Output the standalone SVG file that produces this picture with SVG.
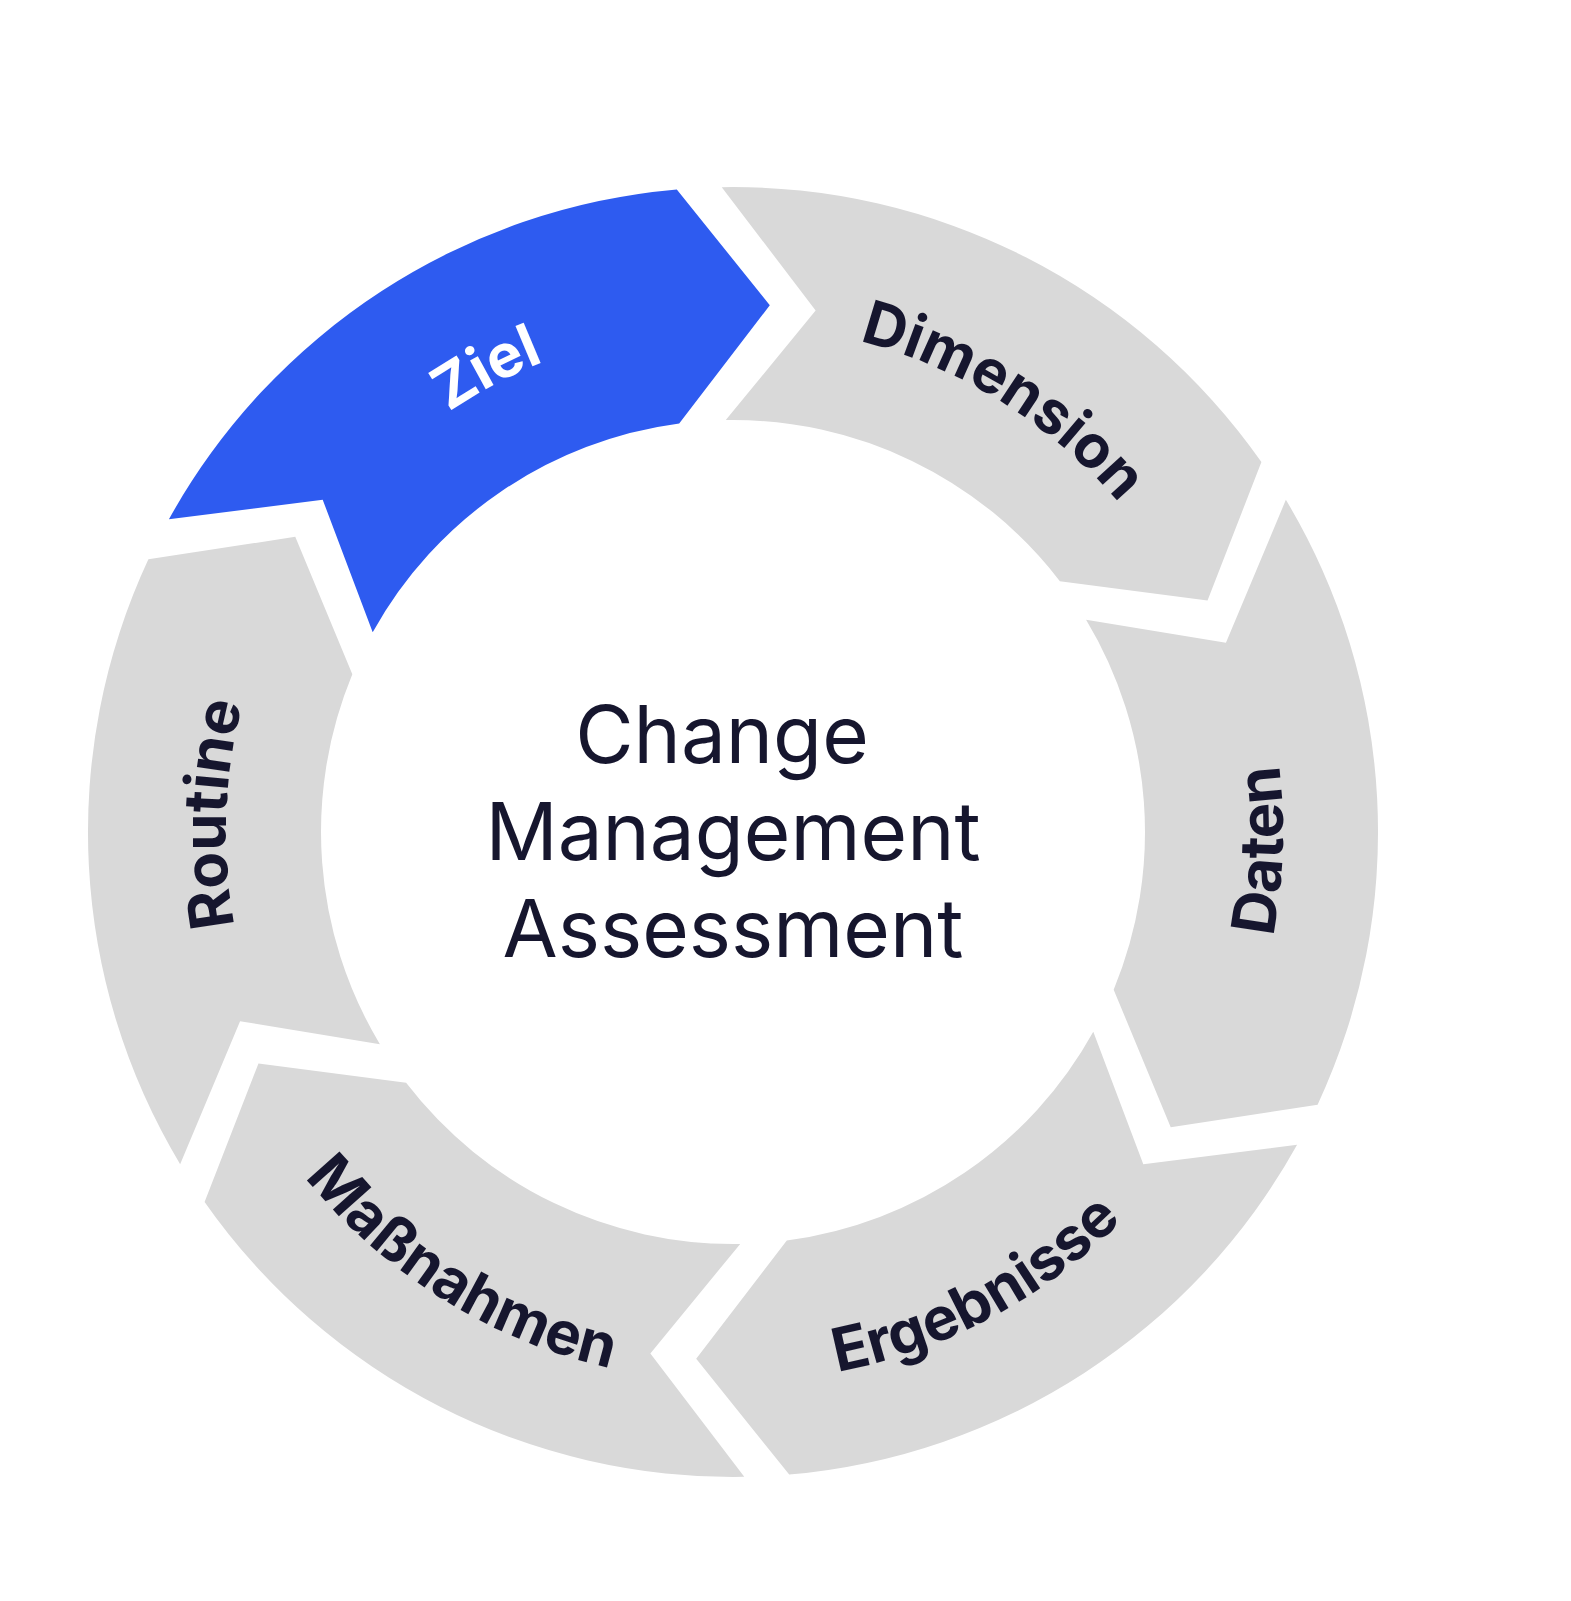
<svg xmlns="http://www.w3.org/2000/svg" width="1571" height="1601" viewBox="0 0 1571 1601">
<style>
.seg{fill:#D9D9D9}
.blue{fill:#2E5BF0}
.lbl{font-family:Inter,"Noto Sans",sans-serif;font-weight:700;font-size:60px;fill:#16162e}
.lblw{fill:#ffffff}
.ctr{font-family:Inter,"Noto Sans",sans-serif;font-size:80px;fill:#16162e;text-anchor:middle}
</style>
<defs>
<path id="seg" d="M168.9,519.3 A645,645 0 0 1 676.8,189.4 L769.8,305.3 L679.2,423.5 A412,412 0 0 0 372.7,632.3 L322.7,499.7 Z"/>
<path id="cw" d="M293.9,578.5 A507,507 0 0 1 1172.1,578.5"/>
<path id="ccw" d="M256.7,1107 A550,550 0 0 0 1209.3,1107"/>
</defs>
<rect width="1571" height="1601" fill="#ffffff"/>
<g id="ziel">
<use href="#seg" class="blue"/>
<g transform="rotate(-28 733 832)"><text class="lbl lblw"><textPath href="#cw" startOffset="50%" text-anchor="middle">Ziel</textPath></text></g>
</g>
<g id="dimension">
<use href="#seg" class="seg" transform="rotate(60 733 832)"/>
<g transform="rotate(32 733 832)"><text class="lbl"><textPath href="#cw" startOffset="50%" text-anchor="middle">Dimension</textPath></text></g>
</g>
<g id="daten">
<use href="#seg" class="seg" transform="rotate(120 733 832)"/>
<g transform="rotate(-88 733 832)"><text class="lbl"><textPath href="#ccw" startOffset="50%" text-anchor="middle">Daten</textPath></text></g>
</g>
<g id="ergebnisse">
<use href="#seg" class="seg" transform="rotate(180 733 832)"/>
<g transform="rotate(-28 733 832)"><text class="lbl"><textPath href="#ccw" startOffset="50%" text-anchor="middle">Ergebnisse</textPath></text></g>
</g>
<g id="massnahmen">
<use href="#seg" class="seg" transform="rotate(240 733 832)"/>
<g transform="rotate(32 733 832)"><text class="lbl"><textPath href="#ccw" startOffset="50%" text-anchor="middle">Maßnahmen</textPath></text></g>
</g>
<g id="routine">
<use href="#seg" class="seg" transform="rotate(300 733 832)"/>
<g transform="rotate(272 733 832)"><text class="lbl"><textPath href="#cw" startOffset="50%" text-anchor="middle">Routine</textPath></text></g>
</g>
<g id="center">
<text class="ctr" x="722" y="763">Change</text>
<text class="ctr" x="733" y="860">Management</text>
<text class="ctr" x="733" y="957">Assessment</text>
</g>
<g id="connectors"/>
</svg>
